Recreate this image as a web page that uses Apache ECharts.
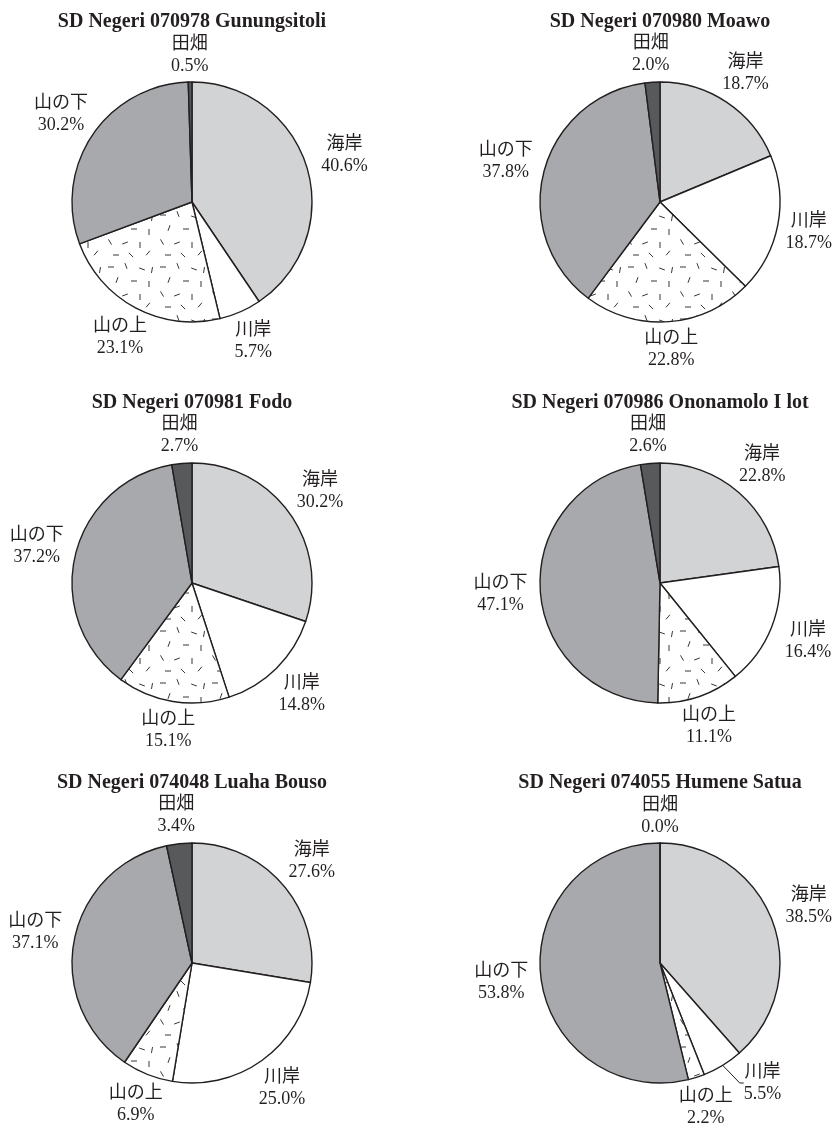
<!DOCTYPE html>
<html>
<head>
<meta charset="utf-8">
<script src="https://cdn.jsdelivr.net/npm/echarts@6.0.0/dist/echarts.min.js"></script>
<style>
html, body { margin: 0; padding: 0; background: #fff; }
#main { width: 835px; height: 1130px; }
</style>
</head>
<body>
<div id="main"></div>
<script>
// data
var categories = ['海岸', '川岸', '山の上', '山の下', '田畑'];
var schools = [
  'SD Negeri 070978 Gunungsitoli',
  'SD Negeri 070980 Moawo',
  'SD Negeri 070981 Fodo',
  'SD Negeri 070986 Ononamolo I lot',
  'SD Negeri 074048 Luaha Bouso',
  'SD Negeri 074055 Humene Satua'
];
var gunungsitoli = [40.6, 5.7, 23.1, 30.2, 0.5];
var moawo = [18.7, 18.7, 22.8, 37.8, 2.0];
var fodo = [30.2, 14.8, 15.1, 37.2, 2.7];
var ononamolo = [22.8, 16.4, 11.1, 47.1, 2.6];
var luahaBouso = [27.6, 25.0, 6.9, 37.1, 3.4];
var humeneSatua = [38.5, 5.5, 2.2, 53.8, 0.0];
var values = [gunungsitoli, moawo, fodo, ononamolo, luahaBouso, humeneSatua];

// layout / style
var colX = [192, 660];
var rowY = [202, 583, 963];
var titleTop = [12, 393, 773];
var R = 120;
var ink = '#231f20';
var serif = "'Liberation Serif', 'Noto Sans CJK JP', serif";

// white fill with scattered short dashes
function dashPattern() {
  var s = 52;
  var c = document.createElement('canvas');
  c.width = s; c.height = s;
  var ctx = c.getContext('2d');
  ctx.fillStyle = '#fff';
  ctx.fillRect(0, 0, s, s);
  ctx.strokeStyle = ink;
  ctx.lineWidth = 0.9;
  var marks = [[7, 7, 0], [22, 6, 70], [38, 9, 20], [13, 20, 110], [30, 21, 0],
               [45, 24, 90], [6, 34, 60], [21, 35, 160], [36, 37, 90],
               [12, 47, 0], [27, 47, 45], [44, 45, 130], [48, 10, 100]];
  marks.forEach(function (m) {
    var a = m[2] * Math.PI / 180, h = 3;
    ctx.beginPath();
    ctx.moveTo(m[0] - h * Math.cos(a), m[1] - h * Math.sin(a));
    ctx.lineTo(m[0] + h * Math.cos(a), m[1] + h * Math.sin(a));
    ctx.stroke();
  });
  return c;
}
var fills = ['#d1d3d4', '#ffffff', { image: dashPattern(), repeat: 'repeat' }, '#a7a9ac', '#58595b'];

// one label moved aside (with leader line) in the last pie
var labelNudge = { '5-1': { angle: -9, extra: 4 } };

var myChart = echarts.init(document.getElementById('main'));

var titles = [], series = [];
values.forEach(function (vals, i) {
  var cx = colX[i % 2], cy = rowY[Math.floor(i / 2)];
  titles.push({
    text: schools[i],
    left: cx,
    top: titleTop[Math.floor(i / 2)],
    textAlign: 'center',
    padding: 0,
    textStyle: { fontFamily: serif, fontWeight: 'bold', fontSize: 20, lineHeight: 20, color: ink }
  });
  series.push({
    type: 'pie',
    center: [cx, cy],
    radius: R,
    startAngle: 90,
    clockwise: true,
    avoidLabelOverlap: false,
    silent: true,
    animation: false,
    itemStyle: { borderColor: ink, borderWidth: 1.4 },
    label: {
      show: true,
      position: 'outside',
      fontFamily: serif,
      fontSize: 18,
      lineHeight: 22,
      color: ink,
      formatter: function (p) { return p.name + '\n' + p.value.toFixed(1) + '%'; }
    },
    labelLine: { show: false },
    labelLayout: function (params) {
      var data = myChart.getModel().getSeriesByIndex(params.seriesIndex).getData();
      var lay = data.getItemLayout(params.dataIndex);
      var mid = (lay.startAngle + lay.endAngle) / 2;
      var fromTop = mid + Math.PI / 2;
      var d = lay.r + 27 + 13 * Math.abs(Math.sin(fromTop));
      var n = labelNudge[params.seriesIndex + '-' + params.dataIndex];
      if (n) { mid += n.angle * Math.PI / 180; d += n.extra; }
      var x = lay.cx + d * Math.cos(mid);
      // keep labels inside the page
      var half = params.labelRect.width / 2;
      x = Math.min(x, 832 - half);
      return {
        x: x,
        y: lay.cy + d * Math.sin(mid),
        align: 'center',
        verticalAlign: 'middle'
      };
    },
    data: vals.map(function (v, k) {
      var item = { name: categories[k], value: v, itemStyle: { color: fills[k] } };
      if (labelNudge[i + '-' + k]) {
        item.labelLine = { show: true, length: 4, length2: 4, lineStyle: { color: ink, width: 1 } };
      }
      return item;
    })
  });
});

var option = {
  backgroundColor: '#fff',
  title: titles,
  series: series
};

myChart.setOption(option);
</script>
</body>
</html>
